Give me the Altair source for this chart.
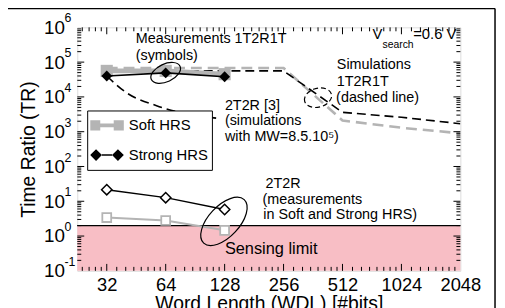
import altair as alt
import pandas as pd

FONT = "Liberation Sans"
W, H = 387, 246
GRAY = "#b4b4b4"
PINK = "#f8bec5"

# ---------------- data ----------------
wdl_meas = [32, 64, 128]
soft_1t2r1t = [5.6e4, 5.6e4, 4.5e4]
strong_1t2r1t = [4.0e4, 4.9e4, 3.8e4]
soft_2t2r = [3.4, 2.8, 1.46]
strong_2t2r = [21.5, 12.7, 5.8]

wdl_sim = [32, 256, 512, 1024, 2048]
sim_soft_1t2r1t = [6.8e4, 6.8e4, 2.1e3, 1.3e3, 9.0e2]
sim_strong_1t2r1t = [5.6e4, 5.6e4, 3.6e3, 2.6e3, 1.7e3]

wdl_sim_2t2r = [32, 40.5, 57.5, 85.5, 121]
sim_2t2r = [4.0e4, 1.3e4, 5.6e3, 3.1e3, 2.4e3]

sensing_limit = [0.1, 2.0]
x_domain = [22.63, 2048]
y_domain = [0.1, 1e6]
x_labels = [32, 64, 128, 256, 512, 1024, 2048]
y_exponents = [-1, 0, 1, 2, 3, 4, 5, 6]
hrs_names = ["Soft HRS", "Strong HRS"]

# axis tick positions (inward ticks)
x_major = [32, 64, 128, 256, 512, 1024]
x_minor = [2 ** k * (1 + j / 8) for k in range(4, 11) for j in range(1, 8)]
x_minor = [v for v in x_minor if x_domain[0] < v < x_domain[1]]
y_major = [10.0 ** e for e in range(0, 6)]
y_minor = [m * 10.0 ** e for e in range(-1, 6) for m in range(2, 10)]

# ---------------- scales / axes ----------------
xs = alt.Scale(type="log", base=2, domain=x_domain, nice=False)
ys = alt.Scale(type="log", base=10, domain=y_domain, nice=False)

xaxis = alt.Axis(values=x_labels, format="d", labelFontSize=18.5, labelFont=FONT,
                 labelColor="black", ticks=False, domain=False, grid=False,
                 labelPadding=5, labelFlush=False, labelOverlap=False,
                 title="Word Length (WDL) [#bits]", titleFont=FONT, titleFontSize=19.5,
                 titleFontWeight="normal", titleColor="black", titlePadding=1)
yaxis = alt.Axis(values=[10.0 ** e for e in y_exponents], labelExpr="'10'",
                 labelFontSize=19, labelFont=FONT, labelColor="black",
                 ticks=False, domain=False, grid=False, labelPadding=13,
                 labelFlush=False, labelOverlap=False,
                 title="Time Ratio (TR)", titleFont=FONT, titleFontSize=19.5,
                 titleFontWeight="normal", titleColor="black", titlePadding=5)


def X(f):
    return alt.X(f, type="quantitative", scale=xs, axis=xaxis)


def Y(f):
    return alt.Y(f, type="quantitative", scale=ys, axis=yaxis)


def XD(v):
    return alt.XDatum(v, type="quantitative", scale=xs, axis=xaxis)


def YD(v):
    return alt.YDatum(v, type="quantitative", scale=ys, axis=yaxis)


def one():
    return alt.Data(values=[{}])


def line(xv, yv, color, width, dash=None, interp="linear"):
    kw = dict(color=color, strokeWidth=width, interpolate=interp, clip=True)
    if dash:
        kw["strokeDash"] = dash
    df = pd.DataFrame({"x": xv, "y": yv})
    return alt.Chart(df).mark_line(**kw).encode(x=X("x"), y=Y("y"))


def points(xv, yv, **kw):
    df = pd.DataFrame({"x": xv, "y": yv})
    return alt.Chart(df).mark_point(opacity=1, **kw).encode(x=X("x"), y=Y("y"))


def txt(s, xv, yv, size=14.5, align="left", dy=0):
    return alt.Chart(one()).mark_text(text=s, font=FONT, fontSize=size, align=align,
                                      baseline="middle", dy=dy, color="black").encode(
        x=XD(xv), y=YD(yv))


ELL = "M-1,0A1,{r} 0 1,1 1,0A1,{r} 0 1,1 -1,0Z"


def ellipse(xv, yv, semi, ratio, angle, dash=None):
    kw = dict(shape=ELL.format(r=ratio), size=(2 * semi) ** 2, angle=angle,
              filled=False, stroke="black", strokeWidth=1.2, opacity=1)
    if dash:
        kw["strokeDash"] = dash
    return alt.Chart(one()).mark_point(**kw).encode(x=XD(xv), y=YD(yv))


# ---------------- layers ----------------
band = alt.Chart(one()).mark_rect(color=PINK).encode(
    x=XD(x_domain[0]), x2=alt.X2Datum(x_domain[1]),
    y=YD(sensing_limit[0]), y2=alt.Y2Datum(sensing_limit[1]))
band_top = alt.Chart(one()).mark_rule(color="black", strokeWidth=1.3).encode(
    x=XD(x_domain[0]), x2=alt.X2Datum(x_domain[1]), y=YD(sensing_limit[1]))

sim_soft = line(wdl_sim, sim_soft_1t2r1t, GRAY, 2.6, dash=[11, 6])
sim_strong = line(wdl_sim, sim_strong_1t2r1t, "black", 1.6, dash=[9, 5])
sim_2 = line(wdl_sim_2t2r, sim_2t2r, "black", 1.6, dash=[9, 5], interp="monotone")

meas_soft_l = line(wdl_meas, soft_1t2r1t, GRAY, 5)
meas_soft_p = points(wdl_meas, soft_1t2r1t, shape="square", size=150, filled=True, color=GRAY)
meas_strong_l = line(wdl_meas, strong_1t2r1t, "black", 1.6)
meas_strong_p = points(wdl_meas, strong_1t2r1t, shape="diamond", size=120, filled=True, color="black")

t2_soft_l = line(wdl_meas, soft_2t2r, GRAY, 2)
t2_soft_p = points(wdl_meas, soft_2t2r, shape="square", size=80, filled=False,
                   fill="white", stroke=GRAY, strokeWidth=1.8)
t2_strong_l = line(wdl_meas, strong_2t2r, "black", 1.4)
t2_strong_p = points(wdl_meas, strong_2t2r, shape="diamond", size=110, filled=False,
                     fill="white", stroke="black", strokeWidth=1.5)

P_SOFT = ("M-1,-0.3H-0.4V0.3H-1Z M0.4,-0.3H1V0.3H0.4Z M-0.4,-0.11H0.4V0.11H-0.4Z")
P_STRONG = ("M-1,0L-0.65,-0.35L-0.3,0L-0.65,0.35Z M0.3,0L0.65,-0.35L1,0L0.65,0.35Z "
            "M-0.3,-0.05H0.3V0.05H-0.3Z")
leg = alt.Legend(orient="none", legendX=10, legendY=84, title=None,
                 strokeColor="black", fillColor="white", padding=3,
                 symbolSize=1156, symbolOpacity=1, symbolStrokeWidth=0,
                 clipHeight=24, rowPadding=6, labelFont=FONT, labelFontSize=15,
                 labelColor="black", labelOffset=5, labelLimit=200)
leg_df = pd.DataFrame({"x": [wdl_meas[0]] * 2,
                       "y": [soft_1t2r1t[0], strong_1t2r1t[0]], "hrs": hrs_names})
legend_layer = alt.Chart(leg_df).mark_point(filled=True, opacity=0).encode(
    x=X("x"), y=Y("y"),
    color=alt.Color("hrs:N", scale=alt.Scale(domain=hrs_names, range=[GRAY, "black"]), legend=leg),
    shape=alt.Shape("hrs:N", scale=alt.Scale(domain=hrs_names, range=[P_SOFT, P_STRONG]), legend=leg))

ellipses = [
    ellipse(64, 4.9e4, 16, 0.56, 335),
    ellipse(384, 9.5e3, 14, 0.68, 345, dash=[5, 3]),
    ellipse(127, 2.64, 30, 0.52, 313),
]

texts = [
    txt("Measurements 1T2R1T", 45, 4.55e5),
    txt("(symbols)", 45, 1.5e5),
    txt("V", 819, 6.5e5, size=15, align="right"),
    txt("search", 819, 3.07e5, size=10.5),
    txt("=0.6 V", 1175, 6.5e5, size=15),
    txt("Simulations", 479, 8.3e4),
    txt("1T2R1T", 479, 2.72e4),
    txt("(dashed line)", 475, 9.5e3),
    txt("2T2R [3]", 128.4, 5.3e3),
    txt("(simulations", 128.4, 1.98e3),
    txt("with MW=8.5.10\u2075)", 128.4, 6.93e2),
    txt("2T2R", 207, 31.9),
    txt("(measurements", 200, 11.2),
    txt("in Soft and Strong HRS)", 201.6, 3.92),
    txt("Sensing limit", 128.4, 0.42, size=16.5),
]

exp_df = pd.DataFrame({"v": [10.0 ** e for e in y_exponents], "t": [str(e) for e in y_exponents]})
exponents = alt.Chart(exp_df).mark_text(font=FONT, fontSize=12.5, align="left", baseline="middle",
                                        dy=-9, color="black").encode(
    x=alt.value(-13), y=Y("v"), text="t:N")


def xticks(vals, L):
    df = pd.DataFrame({"v": vals})
    b = alt.Chart(df).mark_rule(color="black", strokeWidth=1).encode(
        x=X("v"), y=alt.value(H), y2=alt.value(H - L))
    t = alt.Chart(df).mark_rule(color="black", strokeWidth=1).encode(
        x=X("v"), y=alt.value(0), y2=alt.value(L))
    return [b, t]


def yticks(vals, L):
    df = pd.DataFrame({"v": vals})
    l = alt.Chart(df).mark_rule(color="black", strokeWidth=1).encode(
        y=Y("v"), x=alt.value(0), x2=alt.value(L))
    r = alt.Chart(df).mark_rule(color="black", strokeWidth=1).encode(
        y=Y("v"), x=alt.value(W), x2=alt.value(W - L))
    return [l, r]


ticks = xticks(x_major, 7) + xticks(x_minor, 4) + yticks(y_major, 7) + yticks(y_minor, 4)

frame_top = alt.Chart(one()).mark_rule(color="black", strokeWidth=1.5).encode(
    x=alt.value(-78), x2=alt.value(W + 35), y=alt.value(-19))
frame_right = alt.Chart(one()).mark_rule(color="black", strokeWidth=1.5).encode(
    x=alt.value(W + 35), y=alt.value(-19), y2=alt.value(H + 40))

layers = ([band, band_top, sim_soft, sim_strong, sim_2, meas_soft_l, meas_soft_p,
           meas_strong_l, meas_strong_p, t2_soft_l, t2_soft_p, t2_strong_l, t2_strong_p,
           legend_layer] + ellipses + texts + [exponents] + ticks + [frame_top, frame_right])

chart = alt.layer(*layers).properties(
    width=W, height=H,
    padding={"left": 70, "top": 18, "right": 37, "bottom": 36},
    autosize=alt.AutoSizeParams(type="none"),
).configure_view(stroke="black", strokeWidth=1.5).configure(background="white")

chart.save("out.html", embed_options={"renderer": "svg", "actions": False})
